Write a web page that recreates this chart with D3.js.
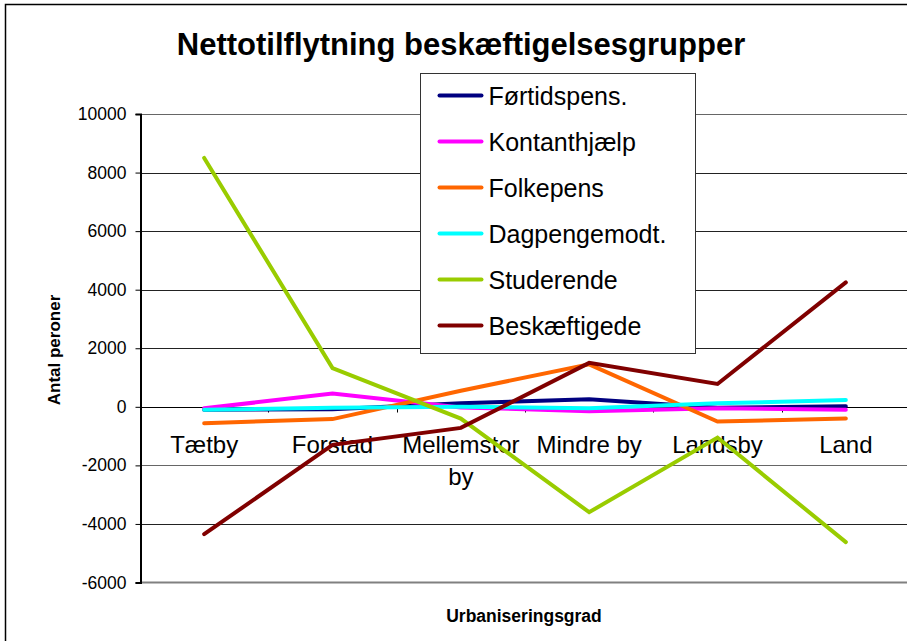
<!DOCTYPE html>
<html>
<head>
<meta charset="utf-8">
<script src="https://cdn.jsdelivr.net/npm/d3@7"></script>
<style>
  body { margin: 0; background: #fff; }
  svg { font-family: "Liberation Sans", Arial, sans-serif; }
</style>
</head>
<body>
<div id="chart"></div>
<script>
const width = 907, height = 641;

const categories = ['Tætby', 'Forstad', 'Mellemstor by', 'Mindre by', 'Landsby', 'Land'];
const seriesNames = ['Førtidspens.', 'Kontanthjælp', 'Folkepens', 'Dagpengemodt.', 'Studerende', 'Beskæftigede'];
const seriesColors = ['#000080', '#ff00ff', '#ff6600', '#00ffff', '#99cc00', '#800000'];

const fortidspens = [-100, -80, 120, 260, -30, 20];
const kontanthjaelp = [-50, 450, -20, -150, -50, -100];
const folkepens = [-560, -420, 550, 1450, -500, -400];
const dagpenge = [-100, -30, 0, -50, 120, 230];
const studerende = [8500, 1320, -400, -3600, -1050, -4620];
const beskaeftigede = [-4350, -1300, -720, 1500, 780, 4250];

const seriesValues = [fortidspens, kontanthjaelp, folkepens, dagpenge, studerende, beskaeftigede];
const yTicks = [-6000, -4000, -2000, 0, 2000, 4000, 6000, 8000, 10000];

const margin = { top: 114, right: -3, bottom: 58, left: 140 };

const svg = d3.select('#chart').append('svg')
    .attr('width', width)
    .attr('height', height);

// outer chart border (runs off the right/bottom edge)
svg.append('rect')
    .attr('x', 5.5).attr('y', 4.5)
    .attr('width', 940).attr('height', 700)
    .attr('fill', '#fff')
    .attr('stroke', '#000')
    .attr('stroke-width', 1.5);

const x = d3.scaleBand()
    .domain(categories)
    .range([margin.left, width - margin.right])
    .padding(0);

const y = d3.scaleLinear()
    .domain([-6000, 10000])
    .range([height - margin.bottom - 0.5, margin.top]);

const xc = d => x(d) + x.bandwidth() / 2;

// gridlines
svg.append('g')
    .selectAll('line')
    .data(yTicks.filter(t => t !== -6000))
    .enter()
    .append('line')
    .attr('x1', margin.left).attr('x2', width)
    .attr('y1', d => Math.round(y(d)) + 0.5)
    .attr('y2', d => Math.round(y(d)) + 0.5)
    .attr('stroke', d => (d === 10000 || d === -2000) ? '#666' : '#222')
    .attr('stroke-width', 1);

// bottom border of plot area
svg.append('line')
    .attr('x1', margin.left).attr('x2', width)
    .attr('y1', y(-6000)).attr('y2', y(-6000))
    .attr('stroke', '#808080')
    .attr('stroke-width', 2);

// Y axis
const yAxis = svg.append('g')
    .attr('transform', `translate(${margin.left + 0.5},0)`)
    .call(d3.axisLeft(y).tickValues(yTicks).tickSize(5).tickPadding(9).tickFormat(d => String(d)));
yAxis.select('.domain').attr('stroke', '#000').attr('stroke-width', 2);
yAxis.selectAll('.tick line').attr('stroke', '#000');
yAxis.selectAll('text')
    .style('font-size', '17.5px')
    .style('font-family', '"Liberation Sans", Arial, sans-serif')
    .attr('fill', '#000');

// X axis at zero
const y0 = Math.round(y(0)) + 0.5;
svg.append('line')
    .attr('x1', margin.left).attr('x2', width)
    .attr('y1', y0).attr('y2', y0)
    .attr('stroke', '#000');
svg.append('g')
    .selectAll('line')
    .data(categories.slice(1))
    .enter()
    .append('line')
    .attr('x1', d => Math.round(x(d)) + 0.5)
    .attr('x2', d => Math.round(x(d)) + 0.5)
    .attr('y1', y0).attr('y2', y0 + 5)
    .attr('stroke', '#000');

// category labels
const catLabels = svg.append('g')
    .selectAll('text')
    .data(categories)
    .enter()
    .append('text')
    .attr('x', d => xc(d))
    .attr('y', 453)
    .attr('text-anchor', 'middle')
    .style('font-size', '24px')
    .attr('fill', '#000');
catLabels.each(function (d) {
    const t = d3.select(this);
    if (d === 'Mellemstor by') {
        t.append('tspan').attr('x', xc(d)).attr('dy', 0).text('Mellemstor');
        t.append('tspan').attr('x', xc(d)).attr('dy', 32).text('by');
    } else {
        t.text(d);
    }
});

// lines
const line = d3.line()
    .x((d, i) => xc(categories[i]))
    .y(d => y(d));

svg.append('g')
    .selectAll('path')
    .data(seriesValues)
    .enter()
    .append('path')
    .attr('d', d => line(d))
    .attr('fill', 'none')
    .attr('stroke', (d, i) => seriesColors[i])
    .attr('stroke-width', 4)
    .attr('stroke-linejoin', 'miter')
    .attr('stroke-linecap', 'round');

// Title
svg.append('text')
    .attr('x', 461)
    .attr('y', 55)
    .attr('text-anchor', 'middle')
    .style('font-size', '31px')
    .style('font-weight', 'bold')
    .text('Nettotilflytning beskæftigelsesgrupper');

// Y label
svg.append('text')
    .attr('transform', 'rotate(-90)')
    .attr('x', -350)
    .attr('y', 60)
    .attr('text-anchor', 'middle')
    .style('font-size', '17px')
    .style('font-weight', 'bold')
    .text('Antal peroner');

// X label
svg.append('text')
    .attr('x', 524)
    .attr('y', 622)
    .attr('text-anchor', 'middle')
    .style('font-size', '17.5px')
    .style('font-weight', 'bold')
    .text('Urbaniseringsgrad');

// Legend
const legend = svg.append('g')
    .attr('transform', 'translate(420.5,73.5)');
legend.append('rect')
    .attr('width', 275)
    .attr('height', 280)
    .attr('fill', '#fff')
    .attr('stroke', '#333')
    .attr('stroke-width', 1);

seriesNames.forEach((name, i) => {
    const row = legend.append('g').attr('transform', `translate(0,${22 + i * 46})`);
    row.append('line')
        .attr('x1', 19).attr('x2', 61)
        .attr('y1', 0).attr('y2', 0)
        .attr('stroke', seriesColors[i])
        .attr('stroke-width', 4)
        .attr('stroke-linecap', 'round');
    row.append('text')
        .attr('x', 68)
        .attr('y', 9)
        .style('font-size', '25px')
        .attr('fill', '#000')
        .text(name);
});
</script>
</body>
</html>
